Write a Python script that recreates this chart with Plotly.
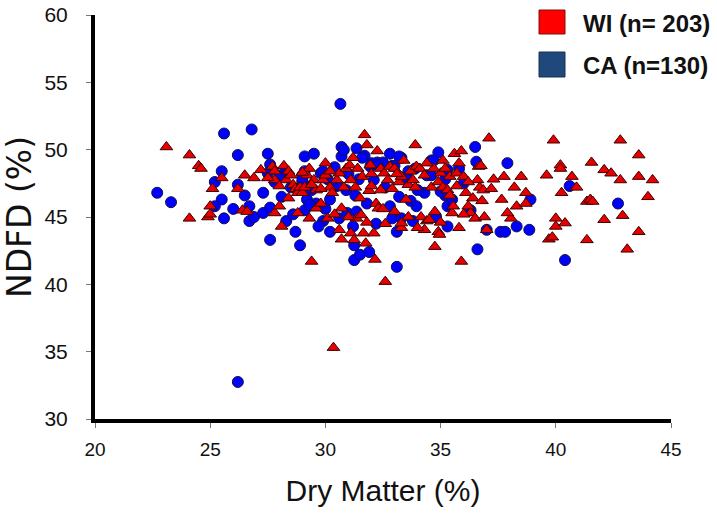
import plotly.graph_objects as go

# CA (n=130) - blue circles
ca_dm = [22.7, 23.3, 25.6, 26.8, 26.2, 25.5, 25.2, 25.5, 25.2, 25.6,
         26.2, 26.5, 26.7, 26.7, 26.9, 27.3, 27.3, 27.5, 27.5, 27.6,
         27.6, 28.1, 28.3, 28.7, 28.9, 29.0, 29.1, 29.1, 29.1, 29.2,
         29.5, 29.6, 29.8, 29.9, 29.9, 30.1, 30.2, 30.2, 30.4, 30.65,
         30.7, 30.7, 30.6, 30.95, 31.25, 31.25, 31.3, 31.35, 31.35, 31.45,
         31.5, 31.7, 31.9, 31.95, 32.1, 32.25, 32.5, 32.8, 32.9, 32.9,
         33.1, 33.1, 33.3, 33.3, 33.6, 33.8, 33.9, 33.95, 34.3, 34.4,
         34.6, 34.6, 34.9, 35.2, 35.2, 35.3, 35.3, 35.5, 36.5, 36.55,
         36.6, 37.0, 37.6, 37.8, 37.9, 38.3, 38.85, 38.9, 40.4, 40.6,
         42.7, 26.2, 27.6, 28.2, 29.0, 30.8, 32.0, 32.3, 33.0, 29.0,
         33.2, 29.3, 31.6, 33.2, 34.7, 35.3, 35.0, 28.5, 28.0, 30.5,
         31.0, 31.8, 32.6, 33.5, 34.0, 30.0, 28.6, 32.2, 34.8, 36.0,
         27.8, 29.4, 31.2, 33.7, 35.8, 30.9, 32.8, 26.0, 36.3, 29.7]
ca_ndfd = [46.8, 46.1, 51.2, 51.5, 49.6, 48.4, 47.6, 46.3, 45.8, 44.9,
           47.4, 46.6, 45.8, 44.7, 45.0, 45.3, 46.8, 49.7, 48.25, 43.3,
           45.7, 46.5, 44.7, 43.9, 42.9, 47.6, 49.5, 48.4, 45.5, 46.3,
           49.7, 46.0, 48.25, 48.4, 44.7, 47.8, 43.9, 46.3, 48.7, 53.4,
           50.2, 49.5, 44.9, 45.3, 41.8, 42.9, 46.6, 45.4, 50.1, 47.8,
           42.2, 49.55, 42.4, 48.75, 47.75, 49.05, 49.05, 49.7, 44.9, 48.8,
           41.3, 43.9, 44.9, 49.4, 48.4, 44.7, 48.6, 45.8, 46.8, 48.1,
           48.1, 49.2, 49.8, 47.8, 46.6, 45.8, 44.3, 46.3, 50.2, 49.1,
           42.6, 44.05, 43.9, 43.9, 49.0, 44.3, 44.05, 46.3, 41.8, 47.3,
           46.0, 32.75, 48.9, 48.25, 48.1, 49.98, 49.0, 48.85, 48.8, 47.75,
           46.5, 45.9, 49.4, 49.5, 49.2, 48.5, 46.9, 47.2, 48.0, 47.3,
           48.2, 46.0, 47.2, 47.8, 47.0, 45.6, 45.2, 44.5, 45.0, 47.5,
           47.6, 47.0, 44.3, 46.2, 48.6, 47.0, 45.8, 45.6, 45.5, 44.3]

# WI (n=203) - red triangles
wi_dm = [23.1, 24.1, 24.1, 24.5, 24.6, 24.9, 25.0, 25.0, 25.1, 25.5,
         26.2, 26.5, 26.4, 26.6, 27.7, 27.8, 27.8, 27.8, 28.0, 28.1,
         28.2, 28.3, 28.4, 28.6, 28.7, 28.8, 28.8, 28.9, 29.0, 29.1,
         29.2, 29.3, 29.4, 29.5, 29.6, 29.6, 29.8, 29.9, 30.0, 30.1,
         30.2, 30.3, 30.35, 30.5, 30.6, 30.6, 30.7, 30.7, 30.9, 31.05,
         31.1, 31.1, 31.25, 31.35, 31.4, 31.55, 31.65, 31.7, 31.75, 31.8,
         31.9, 31.95, 32.1, 32.15, 32.25, 32.2, 32.3, 32.4, 32.5, 32.55,
         32.6, 32.7, 32.8, 33.0, 33.2, 33.3, 33.3, 33.4, 33.5, 33.6,
         33.7, 33.8, 33.9, 33.95, 34.1, 34.15, 34.3, 34.4, 34.5, 34.6,
         34.75, 34.75, 34.9, 34.95, 34.9, 35.0, 35.1, 35.1, 35.3, 35.4,
         35.5, 35.55, 35.6, 35.7, 35.8, 35.9, 35.9, 36.0, 36.1, 36.2,
         36.3, 36.5, 36.6, 36.65, 36.7, 36.75, 36.85, 36.9, 37.0, 37.1,
         37.2, 37.65, 37.75, 38.05, 38.3, 38.5, 38.7, 38.7, 39.6, 39.7,
         39.85, 39.9, 40.0, 40.0, 40.2, 40.2, 40.25, 40.4, 40.7, 40.9,
         41.35, 41.35, 41.5, 41.55, 41.6, 42.1, 42.1, 42.4, 42.8, 42.8,
         42.9, 43.1, 43.6, 43.6, 43.6, 44.0, 44.2,
         28.0, 28.5, 29.0, 29.4, 29.8, 30.2, 30.8, 31.3, 31.6, 32.0,
         32.4, 32.9, 33.3, 33.9, 34.3, 34.7, 35.2, 35.7, 36.2, 36.4,
         31.0, 31.8, 32.6, 33.0, 33.6, 34.0, 35.0, 35.8, 30.4, 29.3,
         28.4, 27.5, 27.2, 30.0, 31.2, 32.0, 33.1, 34.4, 35.4, 36.0,
         37.3, 38.2, 37.9, 36.8, 26.9, 31.5]
wi_ndfd = [50.2, 49.6, 44.9, 48.8, 48.6, 45.0, 45.8, 45.2, 47.1, 47.9,
           47.1, 48.1, 45.5, 45.4, 48.75, 48.4, 47.75, 45.3, 45.8, 44.3,
           48.8, 47.75, 48.4, 47.4, 47.1, 46.8, 45.3, 47.2, 46.8, 47.2,
           48.1, 48.6, 41.7, 47.75, 47.0, 45.65, 46.0, 47.75, 48.1, 44.9,
           47.2, 46.8, 35.3, 47.75, 48.25, 44.05, 45.65, 43.35, 48.6, 48.85,
           47.75, 43.8, 43.3, 44.9, 48.6, 45.15, 43.8, 51.1, 43.05, 50.35,
           46.95, 48.85, 43.8, 41.85, 49.9, 46.0, 45.65, 48.6, 45.6, 48.25,
           40.2, 47.75, 48.75, 48.6, 47.6, 44.2, 44.55, 49.2, 46.3, 47.4,
           48.4, 47.75, 50.35, 48.75, 48.6, 45.0, 44.05, 44.7, 44.8, 47.2,
           42.8, 45.4, 43.9, 43.7, 47.6, 48.25, 49.2, 47.2, 47.0, 48.0,
           45.3, 45.8, 49.7, 48.25, 49.0, 49.9, 41.7, 48.0, 46.8, 45.8,
           45.3, 44.9, 47.75, 48.75, 47.2, 48.8, 47.0, 45.0, 44.05, 50.85,
           47.1, 46.3, 48.0, 44.9, 45.8, 48.0, 46.8, 46.0, 48.1, 43.35,
           43.5, 50.7, 44.9, 44.3, 48.85, 48.6, 46.8, 44.55, 48.0, 47.2,
           43.3, 46.15, 46.3, 49.05, 46.15, 48.5, 44.8, 48.25, 47.75, 50.7,
           45.1, 42.6, 49.6, 48.0, 43.9, 46.5, 47.75,
           47.3, 48.1, 48.3, 47.4, 47.1, 48.4, 47.2, 47.2, 48.0, 47.3,
           47.0, 47.1, 48.0, 47.2, 48.1, 48.6, 48.6, 47.3, 47.6, 46.4,
           45.0, 44.6, 44.5, 45.4, 45.0, 44.2, 44.6, 44.2, 45.2, 44.9,
           46.4, 47.9, 48.5, 49.0, 49.4, 48.2, 48.2, 49.0, 46.6, 45.2,
           47.8, 47.2, 45.3, 46.2, 47.9, 46.4]

x_ticks = [20, 25, 30, 35, 40, 45]
y_ticks = [30, 35, 40, 45, 50, 55, 60]
legend_labels = ["WI (n= 203)", "CA (n=130)"]

fig = go.Figure()
fig.add_trace(go.Scatter(
    x=ca_dm, y=ca_ndfd, mode="markers", name=legend_labels[1], showlegend=False,
    marker=dict(symbol="circle", size=11, color="#0000FF",
                line=dict(color="#10104a", width=1))))
fig.add_trace(go.Scatter(
    x=wi_dm, y=wi_ndfd, mode="markers", name=legend_labels[0], showlegend=False,
    marker=dict(symbol="triangle-up", size=11, color="#E80000",
                line=dict(color="#3a0000", width=1))))

PW, PH, L, T = 576, 404, 95, 15


def px(xp):
    return (xp - L) / PW


def py(yp):
    return (T + PH - yp) / PH


# legend drawn manually (large square swatches)
fig.add_shape(type="rect", xref="paper", yref="paper",
              x0=px(539), x1=px(565), y0=py(34), y1=py(10),
              fillcolor="#FF0000", line=dict(color="#7a1010", width=1))
fig.add_shape(type="rect", xref="paper", yref="paper",
              x0=px(539), x1=px(565), y0=py(77), y1=py(52),
              fillcolor="#1F497D", line=dict(color="#1a3050", width=1))
for lbl, yc in zip(legend_labels, [23, 65]):
    fig.add_annotation(xref="paper", yref="paper", x=px(581), y=py(yc),
                       text="<b>" + lbl + "</b>", showarrow=False,
                       xanchor="left", yanchor="middle",
                       font=dict(family="Arial, Liberation Sans", size=24, color="#111"))

fig.update_layout(
    width=717, height=515,
    margin=dict(l=L, r=717 - L - PW, t=T, b=515 - T - PH),
    paper_bgcolor="white", plot_bgcolor="white",
    xaxis=dict(range=[20, 45], tickvals=x_ticks, ticktext=[str(v) for v in x_ticks],
               automargin=False,
               showgrid=False, zeroline=False, showline=True, linecolor="black",
               linewidth=4, ticks="outside", ticklen=5, tickcolor="#777",
               ticklabelstandoff=5,
               tickfont=dict(family="Arial, Liberation Sans", size=19, color="#111"),
               title=dict(text="Dry Matter (%)", standoff=22,
                          font=dict(family="Liberation Sans Narrow, Arial", size=30, color="#111"))),
    yaxis=dict(range=[30, 60], tickvals=y_ticks, ticktext=[str(v) for v in y_ticks],
               automargin=False,
               showgrid=False, zeroline=False, showline=True, linecolor="black",
               linewidth=4, ticks="outside", ticklen=5, tickcolor="#777",
               ticklabelstandoff=14,
               tickfont=dict(family="Liberation Sans Narrow, Arial", size=21, color="#111"),
               title=dict(text="NDFD (%)", standoff=10,
                          font=dict(family="DejaVu Sans", size=33, color="#111"))),
)
fig.write_html("out.html", config={"displayModeBar": False},
               post_script="document.body.style.margin='0';")
